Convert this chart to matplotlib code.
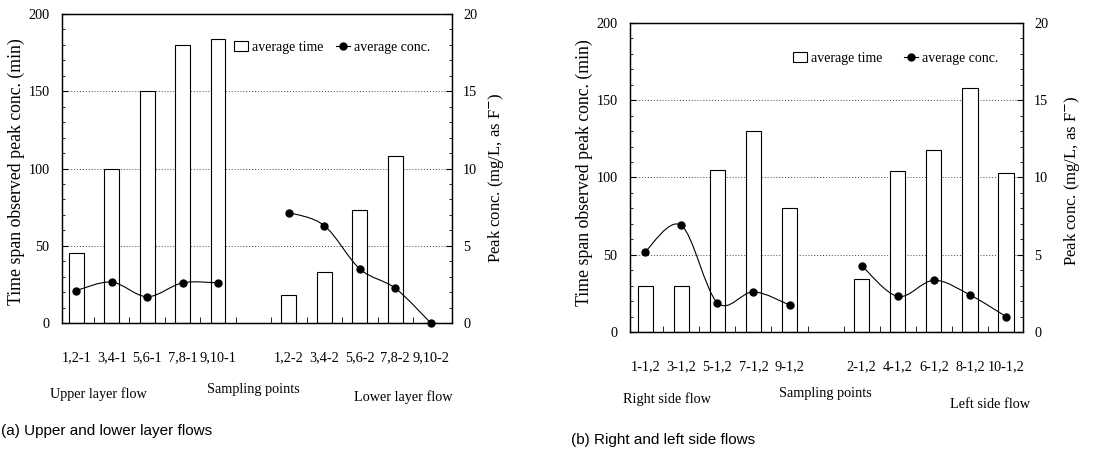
import matplotlib
matplotlib.use("Agg")
import matplotlib.pyplot as plt
import numpy as np
from matplotlib.lines import Line2D
from matplotlib.patches import Patch, PathPatch
from matplotlib.path import Path
from matplotlib.ticker import MultipleLocator

# ── Data ──────────────────────────────────────────────────────────────────────
labels_a = ["1,2-1", "3,4-1", "5,6-1", "7,8-1", "9,10-1",
            "1,2-2", "3,4-2", "5,6-2", "7,8-2", "9,10-2"]
time_a_upper = [45, 100, 150, 180, 184]
time_a_lower = [18, 33, 73, 108, 0]
conc_a_upper = [2.1, 2.65, 1.7, 2.6, 2.6]
conc_a_lower = [7.15, 6.3, 3.5, 2.25, 0.0]

labels_b = ["1-1,2", "3-1,2", "5-1,2", "7-1,2", "9-1,2",
            "2-1,2", "4-1,2", "6-1,2", "8-1,2", "10-1,2"]
time_b_right = [30, 30, 105, 130, 80]
time_b_left = [34, 104, 118, 158, 103]
conc_b_right = [5.2, 6.9, 1.9, 2.6, 1.75]
conc_b_left = [4.3, 2.3, 3.35, 2.4, 1.0]

SERIF = "Liberation Serif"
SANS = "Liberation Sans"
FS = 10.3

W, H = 1109, 455
fig = plt.figure(figsize=(W / 100, H / 100), dpi=100)


def px(x, y):
    return x / W, 1 - y / H


def smooth_path(xs, ys):
    """Catmull-Rom style bezier through the given points (like Excel smoothing)."""
    xs = np.asarray(xs, float)
    ys = np.asarray(ys, float)
    verts = [(xs[0], ys[0])]
    codes = [Path.MOVETO]
    n = len(xs)
    for i in range(n - 1):
        p0 = (xs[max(i - 1, 0)], ys[max(i - 1, 0)])
        p1 = (xs[i], ys[i])
        p2 = (xs[i + 1], ys[i + 1])
        p3 = (xs[min(i + 2, n - 1)], ys[min(i + 2, n - 1)])
        c1 = (p1[0] + (p2[0] - p0[0]) / 6, p1[1] + (p2[1] - p0[1]) / 6)
        c2 = (p2[0] - (p3[0] - p1[0]) / 6, p2[1] - (p3[1] - p1[1]) / 6)
        verts += [c1, c2, p2]
        codes += [Path.CURVE4] * 3
    return Path(verts, codes)


def panel(rect, labels, t1, t2, c1, c2, xlim, legend_anchor, colsp, ylab_pos, rlab_pos):
    ax = fig.add_axes(rect)
    pos1 = np.arange(5)
    pos2 = np.arange(6, 11)
    ax.set_xlim(*xlim)
    ax.set_ylim(0, 200)
    ax.yaxis.grid(True, linestyle=(0, (1, 2)), color="#444444", linewidth=0.7)
    ax.set_axisbelow(True)
    ax.bar(pos1, t1, width=0.42, color="white", edgecolor="black", linewidth=0.8, zorder=2)
    ax.bar(pos2, t2, width=0.42, color="white", edgecolor="black", linewidth=0.8, zorder=2)

    ax.set_xticks(list(pos1) + list(pos2))
    ax.set_xticklabels(labels, fontfamily=SERIF, fontsize=FS)
    ax.set_xticks(np.arange(0.5, 10.5, 1.0), minor=True)
    ax.tick_params(axis="x", which="major", length=0, pad=20)
    ax.tick_params(axis="x", which="minor", direction="in", length=4, width=0.6)

    ax.set_yticks([0, 50, 100, 150, 200])
    ax.yaxis.set_minor_locator(MultipleLocator(10))
    ax.tick_params(axis="y", which="major", direction="in", length=4, pad=9, labelsize=FS)
    ax.tick_params(axis="y", which="minor", direction="in", length=2, width=0.6)
    for lab in ax.get_yticklabels():
        lab.set_fontfamily(SERIF)
    ax.set_ylabel("Time span observed peak conc. (min)", fontfamily=SERIF, fontsize=12.8)
    ax.yaxis.set_label_coords(*ylab_pos)

    ax2 = ax.twinx()
    ax2.set_ylim(0, 20)
    ax2.set_yticks([0, 5, 10, 15, 20])
    ax2.yaxis.set_minor_locator(MultipleLocator(1))
    ax2.tick_params(axis="y", which="major", direction="in", length=4, pad=8, labelsize=FS)
    ax2.tick_params(axis="y", which="minor", direction="in", length=2, width=0.6)
    for lab in ax2.get_yticklabels():
        lab.set_fontfamily(SERIF)
    ax2.set_ylabel("Peak conc. (mg/L, as F$^{-}$)", fontfamily=SERIF, fontsize=12)
    ax2.yaxis.set_label_coords(*rlab_pos)

    for xs, ys in ((pos1, c1), (pos2, c2)):
        ax2.add_patch(PathPatch(smooth_path(xs, ys), facecolor="none",
                                edgecolor="black", linewidth=0.8, clip_on=False))
        ax2.plot(xs, ys, linestyle="none", marker="o", color="black",
                 markersize=5, clip_on=False, zorder=5)

    for a in (ax, ax2):
        for s in a.spines.values():
            s.set_linewidth(0.9)

    handles = [Patch(facecolor="white", edgecolor="black", linewidth=0.8),
               Line2D([], [], color="black", marker="o", markersize=5, linewidth=0.8)]
    ax2.legend(handles, ["average time", "average conc."], ncol=2, frameon=False,
               loc="upper right", bbox_to_anchor=legend_anchor,
               handlelength=1.0, handletextpad=0.3, columnspacing=colsp,
               prop={"family": SERIF, "size": 10})
    return ax, ax2


# ── (a) Upper and lower layer flows ──────────────────────────────────────────
panel([62 / W, 1 - 323 / H, 390 / W, 309 / H], labels_a,
      time_a_upper, time_a_lower, conc_a_upper, conc_a_lower,
      (-0.4, 10.6), (0.976, 0.953), 0.9, (-0.095, 0.49), (1.087, 0.47))

# ── (b) Right and left side flows ────────────────────────────────────────────
panel([630 / W, 1 - 332 / H, 393 / W, 309 / H], labels_b,
      time_b_right, time_b_left, conc_b_right, conc_b_left,
      (-0.42, 10.47), (0.968, 0.946), 1.5, (-0.095, 0.515), (1.099, 0.49))

tkw = dict(fontfamily=SERIF, fontsize=FS, va="center")
fig.text(*px(50, 394), "Upper layer flow", ha="left", **tkw)
fig.text(*px(253, 389), "Sampling points", ha="center", **tkw)
fig.text(*px(453, 397), "Lower layer flow", ha="right", **tkw)
fig.text(*px(623, 399), "Right side flow", ha="left", **tkw)
fig.text(*px(825, 394), "Sampling points", ha="center", **tkw)
fig.text(*px(1030, 404), "Left side flow", ha="right", **tkw)

ckw = dict(fontfamily=SANS, fontsize=11, va="center", ha="left")
fig.text(*px(1, 431), "(a) Upper and lower layer flows", **ckw)
fig.text(*px(571, 440), "(b) Right and left side flows", **ckw)

fig.savefig("out.png", dpi=100)
